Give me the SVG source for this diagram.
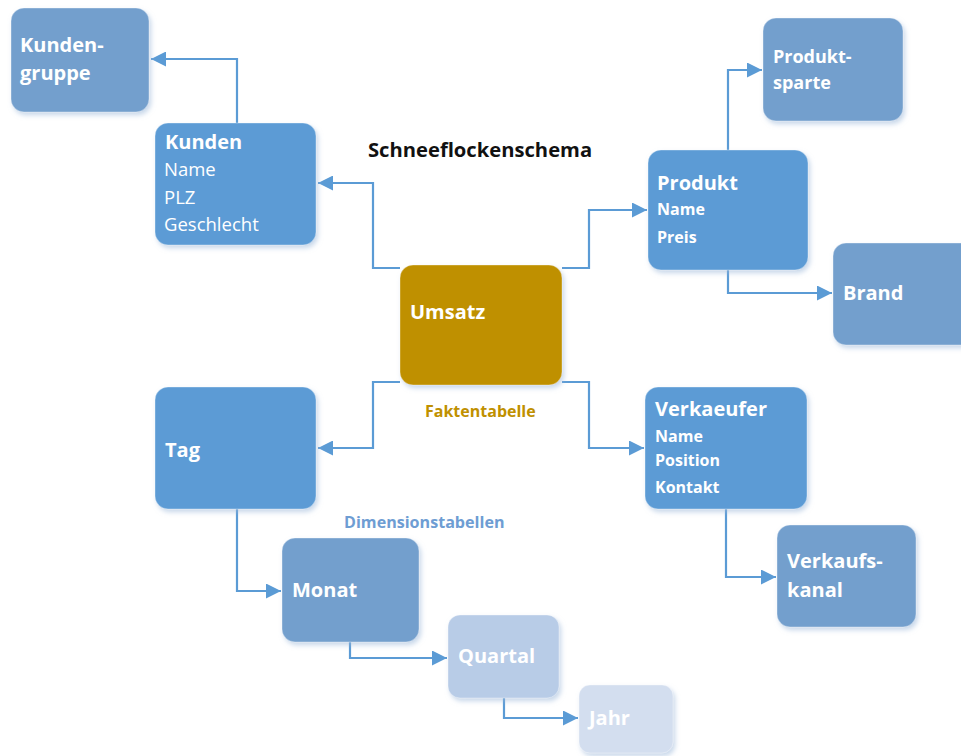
<svg xmlns="http://www.w3.org/2000/svg" width="961" height="756" viewBox="0 0 961 756">
  <defs>
    <filter id="shadow" x="-10%" y="-10%" width="125%" height="130%">
      <feGaussianBlur in="SourceAlpha" stdDeviation="2.5"/>
      <feOffset dx="1.5" dy="3" result="b"/>
      <feFlood flood-color="#9BB7D9" flood-opacity="0.55"/>
      <feComposite in2="b" operator="in"/>
      <feMerge><feMergeNode/><feMergeNode in="SourceGraphic"/></feMerge>
    </filter>
    <marker id="arrow" viewBox="0 0 10 10" refX="10" refY="5" markerWidth="15" markerHeight="15" markerUnits="userSpaceOnUse" orient="auto">
      <path d="M0,0 L10,5 L0,10 z" fill="#5B9BD5"/>
    </marker>
    <style>
      .box { filter: url(#shadow); stroke: #FFFFFF; stroke-opacity: 0.35; stroke-width: 1; }
      .main { fill: #5B9BD5; }
      .sub { fill: #739FCD; }
      .sub2 { fill: #B8CCE7; }
      .sub3 { fill: #D3DEEF; }
      .fact { fill: #BF9000; }
      text { font-family: "Open Sans", "Liberation Sans", sans-serif; fill: #FFFFFF; }
      .t { font-size: 20px; font-weight: 700; }
      .ts { font-size: 18px; font-weight: 700; }
      .a { font-size: 18.5px; font-weight: 400; }
      .ab { font-size: 16px; font-weight: 700; }
      .link { fill: none; stroke: #5B9BD5; stroke-width: 2.2; marker-end: url(#arrow); }
    </style>
  </defs>

  <rect width="961" height="756" fill="#FFFFFF"/>

  <!-- connectors -->
  <g id="connectors">
    <path class="link" d="M237,123 V59 H151"/>
    <path class="link" d="M400,268 H373 V183 H318"/>
    <path class="link" d="M562,268 H589 V210 H647"/>
    <path class="link" d="M728,150 V70 H762"/>
    <path class="link" d="M728,270 V293 H832"/>
    <path class="link" d="M400,382 H373 V448 H318"/>
    <path class="link" d="M562,382 H589 V448 H644"/>
    <path class="link" d="M726,509 V577 H776"/>
    <path class="link" d="M237,509 V591 H281"/>
    <path class="link" d="M350,642 V658 H447"/>
    <path class="link" d="M504,698 V718 H578"/>
  </g>

  <!-- heading and captions -->
  <text x="368" y="157" style="font-size:20.2px;font-weight:700;fill:#111111">Schneeflockenschema</text>
  <text x="425" y="417" style="font-size:16px;font-weight:700;fill:#BF9000">Faktentabelle</text>
  <text x="344" y="528" style="font-size:16.1px;font-weight:700;fill:#6E9DD3">Dimensionstabellen</text>

  <!-- fact table -->
  <g id="umsatz">
    <rect class="box fact" x="400" y="265" width="162" height="120" rx="13"/>
    <text class="t" x="410" y="319">Umsatz</text>
  </g>

  <!-- customer dimension -->
  <g id="kundengruppe">
    <rect class="box sub" x="11" y="8" width="138" height="104" rx="13"/>
    <text class="t" x="20" y="52">Kunden-</text>
    <text class="t" x="20" y="80">gruppe</text>
  </g>
  <g id="kunden">
    <rect class="box main" x="155" y="123" width="161" height="122" rx="13"/>
    <text class="t" x="165" y="149">Kunden</text>
    <text class="a" x="164" y="176">Name</text>
    <text class="a" x="164" y="204">PLZ</text>
    <text class="a" x="164" y="231">Geschlecht</text>
  </g>

  <!-- product dimension -->
  <g id="produktsparte">
    <rect class="box sub" x="763" y="18" width="140" height="103" rx="13"/>
    <text class="ts" x="773" y="63">Produkt-</text>
    <text class="ts" x="773" y="89">sparte</text>
  </g>
  <g id="produkt">
    <rect class="box main" x="648" y="150" width="160" height="120" rx="13"/>
    <text class="t" x="657" y="190">Produkt</text>
    <text class="ab" x="657" y="215">Name</text>
    <text class="ab" x="657" y="243">Preis</text>
  </g>
  <g id="brand">
    <rect class="box sub" x="833" y="243" width="150" height="102" rx="13"/>
    <text class="t" x="843" y="300">Brand</text>
  </g>

  <!-- time dimension -->
  <g id="tag">
    <rect class="box main" x="155" y="387" width="161" height="122" rx="13"/>
    <text class="t" x="165" y="457">Tag</text>
  </g>
  <g id="monat">
    <rect class="box sub" x="282" y="538" width="137" height="104" rx="13"/>
    <text class="t" x="292" y="597">Monat</text>
  </g>
  <g id="quartal">
    <rect class="box sub2" x="448" y="615" width="111" height="83" rx="12"/>
    <text class="t" x="458" y="663">Quartal</text>
  </g>
  <g id="jahr">
    <rect class="box sub3" x="579" y="685" width="94" height="68" rx="11"/>
    <text class="t" x="589" y="725">Jahr</text>
  </g>

  <!-- sales staff dimension -->
  <g id="verkaeufer">
    <rect class="box main" x="645" y="387" width="162" height="122" rx="13"/>
    <text class="t" x="655" y="416">Verkaeufer</text>
    <text class="ab" x="655" y="442">Name</text>
    <text class="ab" x="655" y="466">Position</text>
    <text class="ab" x="655" y="493">Kontakt</text>
  </g>
  <g id="verkaufskanal">
    <rect class="box sub" x="777" y="525" width="139" height="102" rx="13"/>
    <text class="t" x="787" y="568">Verkaufs-</text>
    <text class="t" x="787" y="597">kanal</text>
  </g>
</svg>
